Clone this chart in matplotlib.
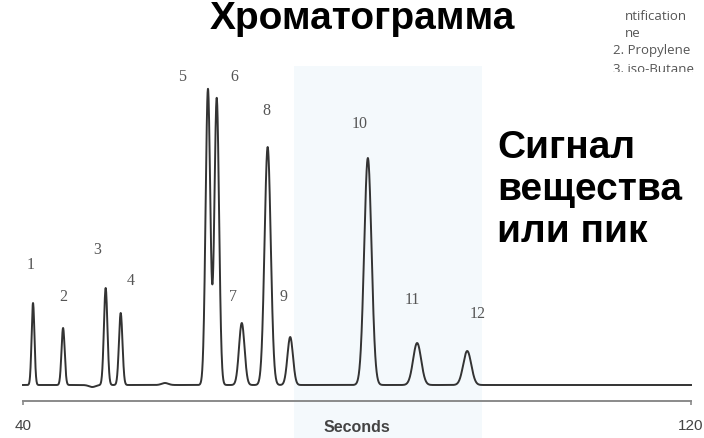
import numpy as np
import matplotlib
matplotlib.use("Agg")
import matplotlib.pyplot as plt

# peak table (retention time s, height, width s)
peak_ids = ["1", "2", "3", "4", "5", "6", "7", "8", "9", "10", "11", "12"]
peak_time = [41.2, 44.8, 49.9, 51.7, 62.15, 63.2, 66.2, 69.3, 72.0, 81.3, 87.2, 93.2]
peak_height = [82, 57, 97, 72, 296, 287, 62, 238, 48, 227, 42, 34]
peak_sigma = [0.17, 0.19, 0.21, 0.21, 0.28, 0.28, 0.33, 0.37, 0.33, 0.44, 0.48, 0.48]
# label positions for the peak numbers (time, height)
label_time = [40.9, 44.8, 48.9, 52.9, 59.0, 65.3, 65.2, 69.2, 71.2, 80.3, 86.6, 94.4]
label_height = [120, 88, 135, 104, 308, 308, 88, 274, 88, 261, 85, 71]

legend_lines = ["ntification", "ne", "2. Propylene", "3. iso-Butane"]

t = np.linspace(40, 120, 4000)
signal = np.zeros_like(t)
for tr, h, s in zip(peak_time, peak_height, peak_sigma):
    signal += h * np.exp(-0.5 * ((t - tr) / s) ** 2)
# small baseline wobbles
signal += -2 * np.exp(-0.5 * ((t - 48.3) / 0.4) ** 2)
signal += 2 * np.exp(-0.5 * ((t - 57.0) / 0.4) ** 2)

fig = plt.figure(figsize=(7.04, 4.38), dpi=100)
ax = fig.add_axes([0, 0, 1, 1])
ax.set_xlim(37.245, 121.557)
ax.set_ylim(-53, 385)

ax.axvspan(72.5, 95, ymin=0.0, ymax=0.85, color="#f4f9fc", lw=0)
ax.plot(t, signal, color="#333333", lw=1.4)

for lab, lt, lh in zip(peak_ids, label_time, label_height):
    ax.text(lt, lh, lab, ha="center", va="center", fontsize=11.5,
            family="Liberation Serif", color="#555555")

# x axis drawn as a floating spine
for side in ["left", "right", "top"]:
    ax.spines[side].set_visible(False)
ax.spines["bottom"].set_position(("data", -16))
ax.spines["bottom"].set_bounds(40, 120)
ax.spines["bottom"].set_color("#8a8a8a")
ax.spines["bottom"].set_linewidth(1.4)
ax.set_yticks([])
ax.set_xticks([40, 120])
ax.set_xticklabels(["40", "120"])
ax.tick_params(axis="x", direction="out", length=3, width=1.2, color="#8a8a8a",
               pad=10, labelsize=11, labelcolor="#444444")
for lbl in ax.get_xticklabels():
    lbl.set_family("Liberation Sans")
ax.text(80, -43, "Seconds", ha="center", va="center", fontsize=11.5,
        fontweight="bold", family="Liberation Sans", color="#444444")

# cut-off legend at top right
ax.text(0.888, 0.962, legend_lines[0], transform=ax.transAxes, fontsize=9.5,
        family="Open Sans", color="#555555", va="center")
ax.text(0.888, 0.923, legend_lines[1], transform=ax.transAxes, fontsize=9.5,
        family="Open Sans", color="#555555", va="center")
ax.text(0.871, 0.884, legend_lines[2], transform=ax.transAxes, fontsize=9.5,
        family="Open Sans", color="#555555", va="center")
ax.text(0.871, 0.842, legend_lines[3], transform=ax.transAxes, fontsize=9.5,
        family="Open Sans", color="#555555", va="center")
ax.axvspan(100, 121.557, ymin=0.70, ymax=0.836, color="white", lw=0, zorder=5)

fig.text(0.515, 0.998, "Хроматограмма", ha="center", va="top", fontsize=28,
         fontweight="bold", family="Liberation Sans", color="black", zorder=6)
fig.text(0.706, 0.566, "Сигнал\nвещества\nили пик", ha="left", va="center",
         fontsize=28, fontweight="bold", family="Liberation Sans",
         color="black", linespacing=1.2, zorder=6)

fig.savefig("out.png", dpi=100)
